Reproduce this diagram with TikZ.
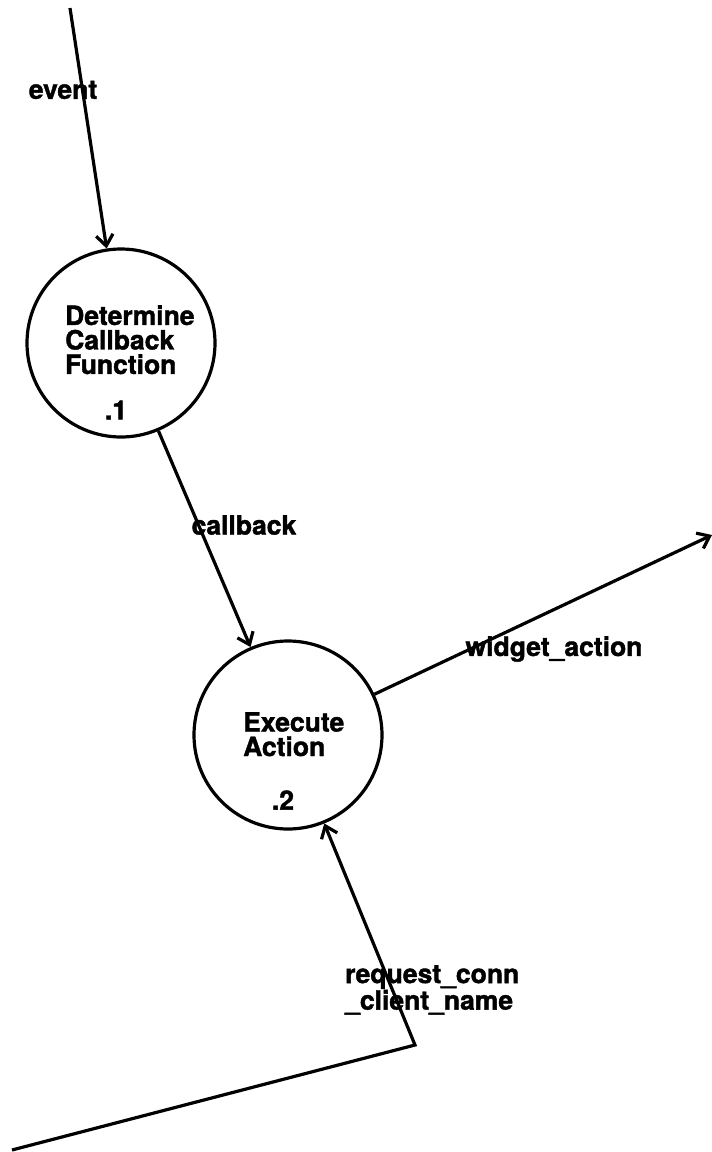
\documentclass[tikz,border=0pt]{standalone}
\usepackage{fontspec}
\setsansfont{TeX Gyre Heros}[BoldFeatures={FakeBold=1.5}]
\usepackage{tikz}
\usetikzlibrary{arrows.meta}

\begin{document}
\begin{tikzpicture}[x=1pt, y=-1pt,
process/.style={draw, circle, line width=3.2pt, minimum size=188pt, inner sep=0pt},
flow/.style={line width=3.2pt, -{Straight Barb[length=11pt,width=17pt]}},
txt/.style={font=\sffamily\bfseries\fontsize{26.5}{24.5}\selectfont, inner sep=0pt, align=left}]
\useasboundingbox (0,0) rectangle (712,1152);
\node[process] (p1) at (121,343) {};
\node[process] (p2) at (288,735) {};
\node[txt, anchor=north west] (p1name) at (65,305) {Determine\\Callback\\Function};
\node[txt] (p1num) at (116,410) {.1};
\node[txt, anchor=north west] (p2name) at (243,712) {Execute\\Action};
\node[txt] (p2num) at (283,800) {.2};
\coordinate (evsrc) at (70,8);
\coordinate (wasink) at (712,535);
\coordinate (rqsrc) at (12,1150);
\coordinate (rqbend) at (415,1045);
\draw[flow] (evsrc) -- (p1);
\draw[flow] (p1) -- (p2);
\draw[flow] (p2) -- (wasink);
\draw[flow] (rqsrc) -- (rqbend) -- (p2);
\node[txt] (evlbl) at (63,90) {event};
\node[txt] (cblbl) at (244,525) {callback};
\node[txt] (walbl) at (554,649) {widget\_action};
\node[txt, anchor=north west] (rqlbl) at (345,965) {request\_conn\\\_client\_name};
\end{tikzpicture}
\end{document}
